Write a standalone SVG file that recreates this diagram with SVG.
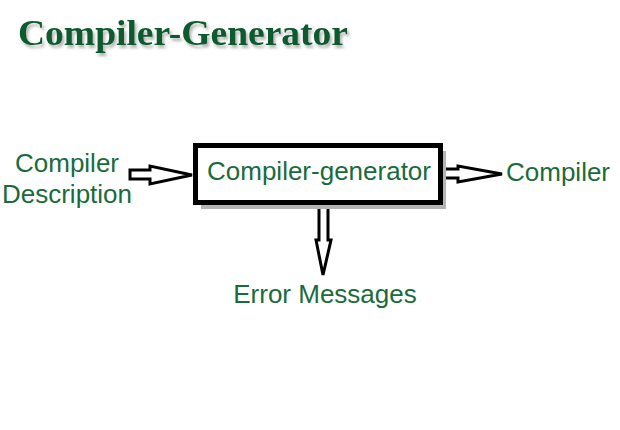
<svg xmlns="http://www.w3.org/2000/svg" width="620" height="430" viewBox="0 0 620 430">
<defs>
<style>
.lbl{font-family:"Liberation Sans",Arial,sans-serif;font-size:26px;fill:#1a6b3c}
.arr{fill:#fff;stroke:#000;stroke-width:3;stroke-linejoin:miter}
</style>
<filter id="sh" x="-10%" y="-30%" width="120%" height="160%">
<feGaussianBlur in="SourceAlpha" stdDeviation="1.5"/>
<feOffset dx="2" dy="3" result="b"/>
<feFlood flood-color="#000" flood-opacity="0.3"/>
<feComposite in2="b" operator="in"/>
<feMerge><feMergeNode/><feMergeNode in="SourceGraphic"/></feMerge>
</filter>
</defs>
<rect width="620" height="430" fill="#fff"/>
<text id="title" x="18" y="45" font-family="Liberation Serif,'Times New Roman',serif" font-weight="bold" font-size="36" fill="#0e5a2e" textLength="330" lengthAdjust="spacingAndGlyphs" filter="url(#sh)">Compiler-Generator</text>
<g id="connectors">
<path class="arr" d="M130,170 L150,170 L150,166 L192,175 L150,184 L150,179 L130,179 Z"/>
<path class="arr" d="M443,169 L458,169 L458,166 L502,174 L458,182 L458,178 L443,178 Z"/>
<path class="arr" d="M319,205 L319,240 L316,240 L323,275 L331,240 L328,240 L328,205 Z"/>
</g>
<g id="generator">
<rect x="201" y="151" width="245" height="58" fill="#b4b4b4"/>
<rect x="195.5" y="145.5" width="245" height="57" fill="#fff" stroke="#000" stroke-width="5"/>
<text class="lbl" x="207" y="180">Compiler-generator</text>
</g>
<g id="description">
<text class="lbl" x="67" y="172" text-anchor="middle">Compiler</text>
<text class="lbl" x="67" y="203" text-anchor="middle">Description</text>
</g>
<g id="compiler">
<text class="lbl" x="506" y="181">Compiler</text>
</g>
<g id="errors">
<text class="lbl" x="325" y="303" text-anchor="middle">Error Messages</text>
</g>
</svg>
